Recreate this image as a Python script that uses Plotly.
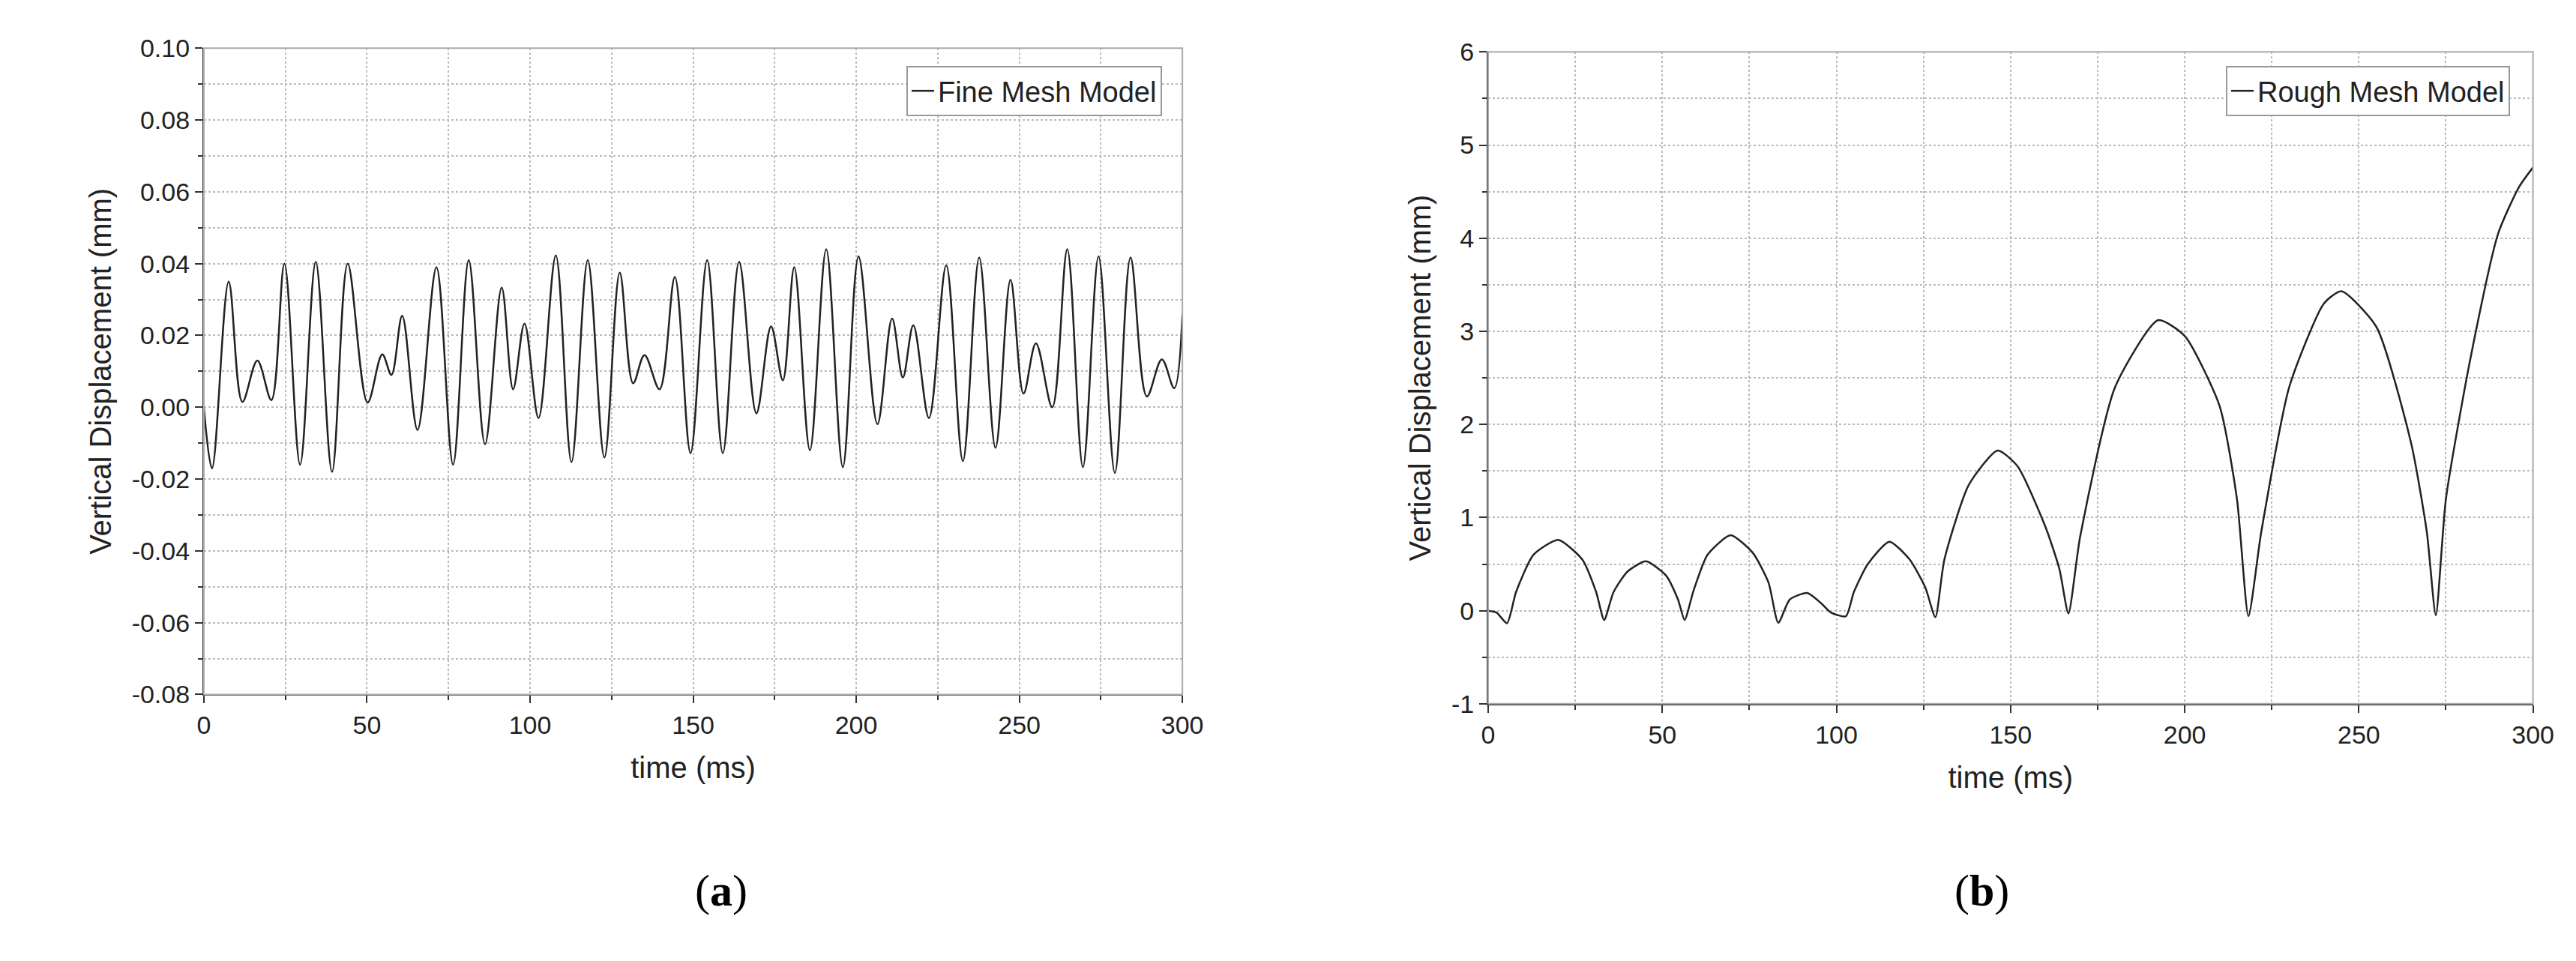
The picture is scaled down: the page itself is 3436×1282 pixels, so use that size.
import plotly.graph_objects as go

# Fine mesh model (time ms, displacement mm) - extrema
t_fine = [0, 2.5, 7.6, 11.8, 16.4, 20.7, 24.7, 29.5, 34.3, 39.3, 44.1, 50.2, 54.7, 57.5, 60.8, 65.5,
          71.3, 76.4, 81.2, 86.2, 91.3, 94.8, 98.3, 102.6, 107.9, 112.7, 117.7, 122.8, 127.5, 131.6,
          135.1, 139.7, 144.4, 149.2, 154.3, 159.1, 164.1, 169.4, 173.9, 177.5, 181.0, 185.8, 190.8,
          195.9, 200.7, 206.5, 211.0, 214.3, 217.5, 222.3, 227.6, 232.7, 237.7, 242.7, 247.3, 251.3,
          255.1, 260.1, 264.7, 269.5, 274.3, 279.3, 284.1, 289.1, 293.7, 297.5, 300]
y_fine = [0, -0.017, 0.035, 0.0015, 0.013, 0.002, 0.040, -0.016, 0.0405, -0.018, 0.040, 0.0013, 0.0147,
          0.009, 0.0255, -0.0063, 0.039, -0.016, 0.041, -0.0103, 0.0333, 0.005, 0.0233, -0.003, 0.0423,
          -0.0153, 0.041, -0.014, 0.0375, 0.0067, 0.0145, 0.005, 0.0363, -0.0128, 0.041, -0.0128, 0.0405,
          -0.0017, 0.0225, 0.0075, 0.039, -0.012, 0.044, -0.0167, 0.042, -0.0047, 0.0247, 0.0083, 0.0228,
          -0.003, 0.0395, -0.015, 0.0417, -0.0113, 0.0355, 0.0038, 0.0178, 0.0, 0.044, -0.0167, 0.042,
          -0.0183, 0.0417, 0.003, 0.0133, 0.0053, 0.026]

# Rough mesh model
t_rough = [0, 2.4, 5.4, 8, 13, 20.1, 27, 31, 33.3, 36, 40, 45.3, 51, 54.5, 56.4, 59, 63, 69.6, 76, 80.5,
           83.3, 86.6, 91.6, 95.6, 98.4, 102.7, 105, 109, 115.2, 121, 125.5, 128.4, 131, 138, 146.3,
           152, 160, 164, 166.6, 170, 180, 192.4, 200, 210, 215, 218.3, 222, 230, 240, 245.0, 255,
           265, 269.5, 272.1, 275, 282, 290, 296, 300]
y_rough = [0, -0.02, -0.135, 0.2, 0.6, 0.76, 0.55, 0.2, -0.1, 0.2, 0.42, 0.53, 0.38, 0.12, -0.1, 0.22,
           0.6, 0.81, 0.62, 0.3, -0.13, 0.12, 0.19, 0.08, -0.02, -0.06, 0.2, 0.5, 0.74, 0.55, 0.25,
           -0.07, 0.55, 1.35, 1.72, 1.55, 0.9, 0.45, -0.03, 0.8, 2.4, 3.12, 2.95, 2.2, 1.2, -0.06, 0.85,
           2.4, 3.3, 3.43, 3.05, 1.8, 0.85, -0.05, 1.2, 2.7, 4.05, 4.55, 4.76]

# tick labels
fine_tickvals = [-0.08, -0.06, -0.04, -0.02, 0.0, 0.02, 0.04, 0.06, 0.08, 0.10]
fine_ticktext = ["-0.08", "-0.06", "-0.04", "-0.02", "0.00", "0.02", "0.04", "0.06", "0.08", "0.10"]
rough_tickvals = [-1, 0, 1, 2, 3, 4, 5, 6]
rough_ticktext = ["-1", "0", "1", "2", "3", "4", "5", "6"]

FONT = "Liberation Sans"
fig = go.Figure()
fig.add_trace(go.Scatter(x=t_fine, y=y_fine, mode="lines", name="Fine Mesh Model", showlegend=True,
                         line=dict(color="#222", width=2.5, shape="spline", smoothing=1.0),
                         xaxis="x", yaxis="y", legend="legend"))
fig.add_trace(go.Scatter(x=t_rough, y=y_rough, mode="lines", name="Rough Mesh Model", showlegend=True,
                         line=dict(color="#222", width=2.5, shape="spline", smoothing=0.6),
                         xaxis="x2", yaxis="y2", legend="legend2"))

grid = dict(showgrid=True, gridcolor="#bbbbbb", griddash="dot", gridwidth=1.5)
def xax(dom, anchor):
    return dict(domain=dom, anchor=anchor, range=[0, 300], dtick=50, tick0=0,
                showline=True, linecolor="#333", linewidth=2, ticks="outside", ticklen=10,
                tickwidth=2, tickcolor="#333", zeroline=False,
                minor=dict(dtick=25, ticks="outside", ticklen=6, tickcolor="#333", **grid),
                title=dict(text="time (ms)", font=dict(size=40, family=FONT, color="#222"), standoff=25),
                tickfont=dict(size=34, family=FONT, color="#222"), **grid)
def yax(dom, anchor, rng, tv, tt, mdt):
    return dict(domain=dom, anchor=anchor, range=rng, tickmode="array", tickvals=tv, ticktext=tt,
                showline=True, linecolor="#333", linewidth=2, ticks="outside", ticklen=10,
                tickwidth=2, tickcolor="#333", zeroline=False,
                minor=dict(dtick=mdt, tick0=rng[0], ticks="outside", ticklen=6, tickcolor="#333", **grid),
                title=dict(text="Vertical Displacement (mm)", font=dict(size=40, family=FONT, color="#222")),
                tickfont=dict(size=34, family=FONT, color="#222"), **grid)

fig.update_layout(
    width=3436, height=1282, margin=dict(l=0, r=0, t=0, b=0),
    plot_bgcolor="white", paper_bgcolor="white", showlegend=True,
    xaxis=xax([0.075, 0.459], "y"),
    yaxis=yax([0.277, 0.970], "x", [-0.08, 0.10], fine_tickvals, fine_ticktext, 0.01),
    xaxis2=xax([0.579, 0.989], "y2"),
    yaxis2=yax([0.267, 0.966], "x2", [-1, 6], rough_tickvals, rough_ticktext, 0.5),
    legend=dict(x=0.451, y=0.951, xanchor="right", yanchor="top", bordercolor="#999", borderwidth=2,
                bgcolor="white", font=dict(size=38, family=FONT, color="#222")),
    legend2=dict(x=0.980, y=0.951, xanchor="right", yanchor="top", bordercolor="#999", borderwidth=2,
                 bgcolor="white", font=dict(size=38, family=FONT, color="#222")),
    shapes=[dict(type="rect", xref="x domain", yref="y domain", x0=0, x1=1, y0=0, y1=1,
                 line=dict(color="#aaa", width=2)),
            dict(type="rect", xref="x2 domain", yref="y2 domain", x0=0, x1=1, y0=0, y1=1,
                 line=dict(color="#aaa", width=2))],
    annotations=[dict(text="(<b>a</b>)", x=0.267, y=1 - 1233 / 1282, xref="paper", yref="paper",
                      showarrow=False, font=dict(size=60, family="Liberation Serif", color="black")),
                 dict(text="(<b>b</b>)", x=0.784, y=1 - 1233 / 1282, xref="paper", yref="paper",
                      showarrow=False, font=dict(size=60, family="Liberation Serif", color="black"))],
)
fig.write_html("out.html")
